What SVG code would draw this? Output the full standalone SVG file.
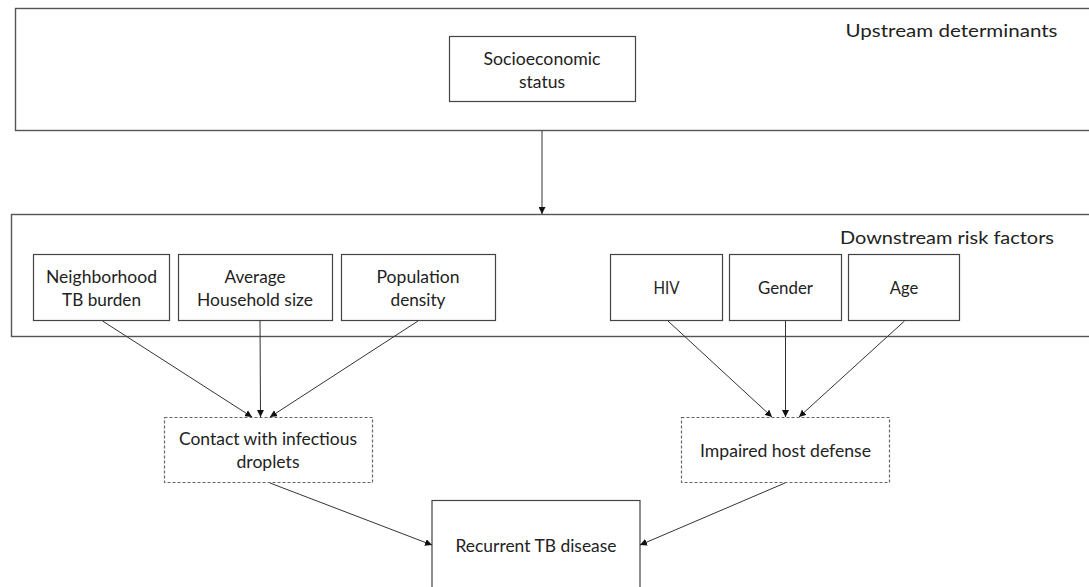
<svg xmlns="http://www.w3.org/2000/svg" width="1089" height="587" viewBox="0 0 1089 587">
<defs>
<style>
.t{font-family:Lato,"Open Sans","Liberation Sans",sans-serif;font-size:17px;fill:#222;text-anchor:middle}
.big{fill:none;stroke:#555;stroke-width:1.4}
.box{fill:#fff;stroke:#444;stroke-width:1.2}
.dash{fill:#fff;stroke:#666;stroke-width:1.2;stroke-dasharray:3,2}
.c{stroke:#333;stroke-width:1;fill:none;marker-end:url(#ah)}
</style>
<marker id="ah" viewBox="0 0 10 10" refX="10" refY="5" markerWidth="7" markerHeight="7" markerUnits="userSpaceOnUse" orient="auto">
<path d="M0,0 L10,5 L0,10 z" fill="#111"/>
</marker>
</defs>
<rect width="1089" height="587" fill="#fff"/>
<g id="upstream">
<rect class="big" x="15.5" y="8.5" width="1090" height="122"/>
<text class="t" x="951.5" y="36.5" textLength="212" lengthAdjust="spacingAndGlyphs" font-size="19">Upstream determinants</text>
</g>
<g id="downstream">
<rect class="big" x="11.5" y="214.5" width="1090" height="122"/>
<text class="t" x="947" y="243.5" textLength="214" lengthAdjust="spacingAndGlyphs" font-size="19">Downstream risk factors</text>
</g>
<g id="socioeconomic">
<rect class="box" x="449.5" y="36.5" width="186" height="65"/>
<text class="t" x="542" y="64.5" textLength="117" lengthAdjust="spacingAndGlyphs">Socioeconomic</text>
<text class="t" x="542" y="87.5" textLength="46" lengthAdjust="spacingAndGlyphs">status</text>
</g>
<g id="neighborhood">
<rect class="box" x="33.5" y="254.5" width="136" height="66"/>
<text class="t" x="101.5" y="282.5" textLength="111" lengthAdjust="spacingAndGlyphs">Neighborhood</text>
<text class="t" x="101.5" y="306" textLength="79" lengthAdjust="spacingAndGlyphs">TB burden</text>
</g>
<g id="household">
<rect class="box" x="178.5" y="254.5" width="154" height="66"/>
<text class="t" x="255" y="282.5" textLength="61" lengthAdjust="spacingAndGlyphs">Average</text>
<text class="t" x="255" y="306" textLength="116" lengthAdjust="spacingAndGlyphs">Household size</text>
</g>
<g id="population">
<rect class="box" x="341.5" y="254.5" width="154" height="66"/>
<text class="t" x="418" y="282.5" textLength="83" lengthAdjust="spacingAndGlyphs">Population</text>
<text class="t" x="418" y="306" textLength="55" lengthAdjust="spacingAndGlyphs">density</text>
</g>
<g id="hiv">
<rect class="box" x="610.5" y="254.5" width="112" height="66"/>
<text class="t" x="666.5" y="294.3" textLength="26" lengthAdjust="spacingAndGlyphs">HIV</text>
</g>
<g id="gender">
<rect class="box" x="729.5" y="254.5" width="112" height="66"/>
<text class="t" x="785.5" y="294.3" textLength="55" lengthAdjust="spacingAndGlyphs">Gender</text>
</g>
<g id="age">
<rect class="box" x="848.5" y="254.5" width="111" height="66"/>
<text class="t" x="904" y="294.3" textLength="28.5" lengthAdjust="spacingAndGlyphs">Age</text>
</g>
<g id="contact">
<rect class="dash" x="164.5" y="417.5" width="208" height="65"/>
<text class="t" x="268" y="445" textLength="178" lengthAdjust="spacingAndGlyphs">Contact with infectious</text>
<text class="t" x="268" y="468" textLength="63" lengthAdjust="spacingAndGlyphs">droplets</text>
</g>
<g id="impaired">
<rect class="dash" x="681.5" y="417.5" width="208" height="65"/>
<text class="t" x="785.5" y="456.7" textLength="171" lengthAdjust="spacingAndGlyphs">Impaired host defense</text>
</g>
<g id="recurrent">
<rect class="box" x="432" y="500.5" width="208" height="100"/>
<text class="t" x="536" y="551.7" textLength="161" lengthAdjust="spacingAndGlyphs">Recurrent TB disease</text>
</g>
<g id="connectors">
<line class="c" x1="542" y1="131" x2="542" y2="214"/>
<line class="c" x1="102.5" y1="321" x2="252" y2="417"/>
<line class="c" x1="260" y1="321" x2="260.5" y2="417"/>
<line class="c" x1="418" y1="321" x2="270" y2="417"/>
<line class="c" x1="668" y1="321" x2="772" y2="417"/>
<line class="c" x1="785.5" y1="321" x2="785.5" y2="417"/>
<line class="c" x1="904.5" y1="321" x2="799" y2="417"/>
<line class="c" x1="270" y1="483" x2="432" y2="545"/>
<line class="c" x1="785" y1="483" x2="640" y2="545"/>
</g>
</svg>
